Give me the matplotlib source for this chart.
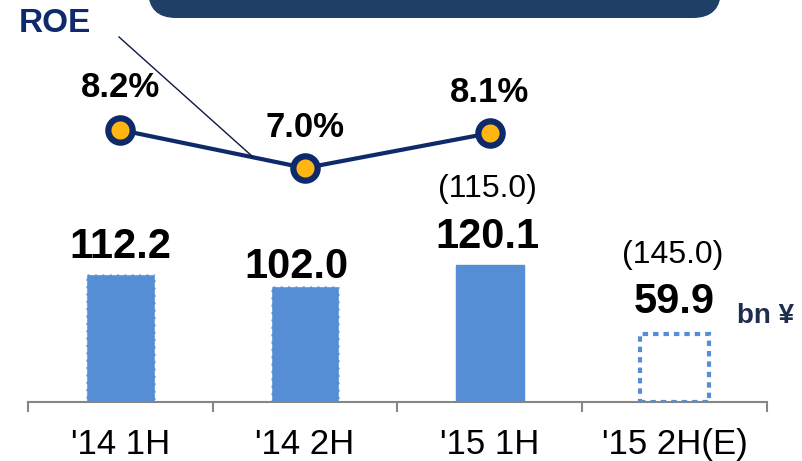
import matplotlib
matplotlib.use("Agg")
import matplotlib.pyplot as plt
from matplotlib.patches import FancyBboxPatch
from matplotlib.lines import Line2D

plt.rcParams['font.family'] = ['Liberation Sans', 'DejaVu Sans']

# ---- data ----
periods = ["'14 1H", "'14 2H", "'15 1H", "'15 2H(E)"]
profit = [112.2, 102.0, 120.1, 59.9]          # bn yen
forecast_labels = ["", "", "(115.0)", "(145.0)"]
roe = [8.2, 7.0, 8.1]                          # %

# ---- style ----
BAR_BLUE = '#558ED5'
NAVY = '#0E2A6A'
BANNER = '#1F3F66'
GOLD = '#FFB612'
AXIS_GREY = '#868686'

W, H, DPI = 803, 461, 100
fig = plt.figure(figsize=(W / DPI, H / DPI), dpi=DPI)
ax = fig.add_axes([28 / W, (H - 402) / H, (767 - 28) / W, 402 / H])

x = list(range(len(periods)))
bar_w = 0.37

# actual results: solid bars, the first two with a fine white dashed rim
for i in range(3):
    ax.bar(x[i], profit[i], width=bar_w, color=BAR_BLUE,
           edgecolor='white' if i < 2 else BAR_BLUE,
           linestyle='--' if i < 2 else '-', linewidth=1, zorder=2)
# estimate: dotted outline only
ax.bar(x[3], profit[3], width=bar_w, facecolor='none', edgecolor=BAR_BLUE,
       linestyle=(0, (1.3, 1.2)), linewidth=3, zorder=2)

ax.set_xlim(-0.5, 3.5)
ax.set_ylim(0, 402 / 1.14)

for s in ('top', 'right', 'left'):
    ax.spines[s].set_visible(False)
ax.spines['bottom'].set_color(AXIS_GREY)
ax.spines['bottom'].set_linewidth(1.5)
ax.set_yticks([])
ax.set_xticks(x)
ax.set_xticklabels(periods, fontsize=25)
ax.set_xticks([i - 0.5 for i in range(len(periods) + 1)], minor=True)
ax.tick_params(axis='x', which='major', length=0, pad=19)
ax.tick_params(axis='x', which='minor', length=7, width=1.5, color=AXIS_GREY)

# value labels above bars
val_dx = [0, -9, -2, 0]
val_dy = [16, 8, 17, 21]
for i, v in enumerate(profit):
    ax.annotate(f"{v:.1f}", (x[i], v), xytext=(val_dx[i], val_dy[i]),
                textcoords='offset pixels', ha='center', va='baseline',
                fontsize=30, fontweight='bold', color='black')
fc_dy = [0, 0, 68, 71]
for i, t in enumerate(forecast_labels):
    if t:
        ax.annotate(t, (x[i], profit[i]), xytext=(-2, fc_dy[i]),
                    textcoords='offset pixels', ha='center', va='baseline',
                    fontsize=23, color='black')

# unit label
fig.text(766 / W, (H - 316) / H, "bn ¥", ha='center', va='center',
         fontsize=20, fontweight='bold', color='#1F2D4F')

# ROE line on its own scale
ax2 = ax.twinx()
ax2.set_ylim(-0.38, 12.3)
ax2.axis('off')
ax2.plot(x[:3], roe, color=NAVY, linewidth=3, marker='o', markersize=17.5,
         markerfacecolor=GOLD, markeredgecolor=NAVY, markeredgewidth=4.5,
         zorder=3)
roe_dy = [33, 31, 31]
for i, r in enumerate(roe):
    ax2.annotate(f"{r:.1f}%", (x[i], r), xytext=(0, roe_dy[i]),
                 textcoords='offset pixels', ha='center', va='baseline',
                 fontsize=25, fontweight='bold', color='black')

# ROE callout
fig.text(55 / W, (H - 23) / H, "ROE", ha='center', va='center',
         fontsize=24, fontweight='bold', color=NAVY)
fig.add_artist(Line2D([119, 253], [H - 37, H - 157], transform=None,
                      color='#0A1A40', linewidth=1))

# header banner running off the top edge
fig.add_artist(FancyBboxPatch((148, H - 18), 721 - 148, 80,
                              boxstyle='round,pad=0,rounding_size=28',
                              transform=None, facecolor=BANNER,
                              edgecolor='none'))

fig.savefig('out.png', dpi=DPI)
